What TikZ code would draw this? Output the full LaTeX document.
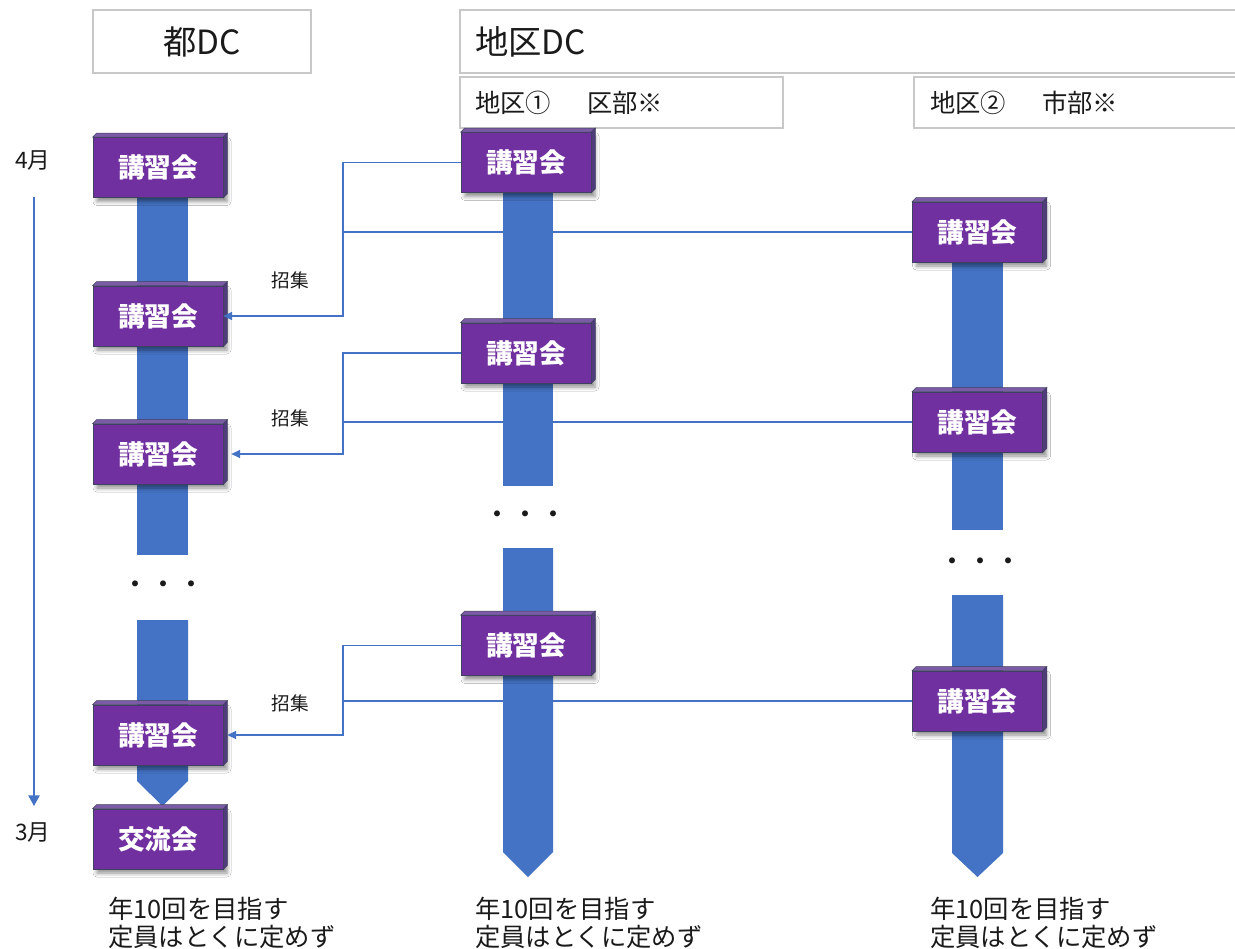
\documentclass[tikz,border=0pt]{standalone}
\usepackage{fontspec}
\setmainfont{Noto Sans CJK JP}
\usetikzlibrary{arrows.meta,shadows.blur}
\definecolor{kpurple}{HTML}{7030A0}
\definecolor{kblue}{HTML}{4472C4}
\definecolor{ktop}{HTML}{7B5BA6}
\definecolor{kside}{HTML}{4F3C7A}
\definecolor{kedge}{HTML}{404060}
\definecolor{kgray}{HTML}{C8C8C8}
\definecolor{ktext}{HTML}{1A1A1A}
\newcommand{\kbevel}[1]{%
  \fill[ktop,draw=kedge,line width=0.4pt] (#1.north west) -- ++(4,-4) -- ([xshift=3pt,yshift=3pt]#1.north east) -- (#1.north east) -- cycle;
  \fill[kside,draw=kedge,line width=0.4pt] (#1.north east) -- ([xshift=3pt,yshift=3pt]#1.north east) -- ([xshift=3pt,yshift=3pt]#1.south east) -- (#1.south east) -- cycle;}
\tikzset{
  kbox/.style={rectangle, fill=kpurple, draw=kedge, line width=0.5pt, minimum width=97.5pt, minimum height=45pt, inner sep=0pt,
    text=white, font=\fontsize{20}{22}\selectfont\bfseries,
    blur shadow={shadow xshift=3pt, shadow yshift=-3pt, shadow blur radius=3pt, shadow opacity=45}},
  hbox/.style={draw=kgray, line width=1pt},
  conn/.style={draw=kblue, line width=0.8pt},
  connarrow/.style={conn, -{Triangle[width=6pt,length=6.5pt]}},
  lbl/.style={text=ktext, inner sep=0pt},
  bar/.style={fill=kblue},
}
\begin{document}
\begin{tikzpicture}[x=0.75pt,y=-0.75pt]
\useasboundingbox (0,0) rectangle (1235,949);
\clip (0,0) rectangle (1235,949);
\fill[white] (0,0) rectangle (1235,949);

% header boxes
\draw[hbox] (93,10) rectangle (311,73);
\node[lbl, font=\fontsize{25}{27}\selectfont] (hto) at (202,42) {都DC};
\draw[hbox] (460,10) rectangle (1245,73);
\node[lbl, anchor=west, font=\fontsize{25}{27}\selectfont] (hchiku) at (475,42) {地区DC};
\draw[hbox] (460,77) rectangle (783,128);
\node[lbl, anchor=west, font=\fontsize{19}{21}\selectfont] (h1) at (475,103) {地区①\hspace{27pt}区部※};
\draw[hbox] (914,77) rectangle (1245,128);
\node[lbl, anchor=west, font=\fontsize{19}{21}\selectfont] (h2) at (930,103) {地区②\hspace{27pt}市部※};

% timeline
\node[lbl, font=\fontsize{17}{19}\selectfont] (apr) at (33,160) {4月};
\node[lbl, font=\fontsize{17}{19}\selectfont] (mar) at (33,832) {3月};
\coordinate (t0) at (34,197);
\coordinate (t1) at (34,806);
\draw[kblue, line width=1pt, -{Triangle[width=8.5pt,length=8pt]}] (t0) -- (t1);

% bars
\fill[bar] (137,197) rectangle (188,555);
\fill[bar] (137,620) -- (188,620) -- (188,781) -- (162.5,806) -- (137,781) -- cycle;
\fill[bar] (503,190) rectangle (553,486);
\fill[bar] (503,548) -- (553,548) -- (553,852) -- (528,877) -- (503,852) -- cycle;
\fill[bar] (952,260) rectangle (1003,530);
\fill[bar] (952,595) -- (1003,595) -- (1003,853) -- (977.5,877) -- (952,853) -- cycle;

% dots
\node[lbl, font=\fontsize{21}{23}\selectfont] (d1) at (163,588) {・・・};
\node[lbl, font=\fontsize{21}{23}\selectfont] (d2) at (525,518) {・・・};
\node[lbl, font=\fontsize{21}{23}\selectfont] (d3) at (980,565) {・・・};

% boxes
\node[kbox] (L1) at (158,167.5) {講習会};
\node[kbox] (L2) at (158,316) {講習会};
\node[kbox] (L3) at (158,454) {講習会};
\node[kbox] (L4) at (158,735) {講習会};
\node[kbox] (L5) at (158,839) {交流会};
\node[kbox] (M1) at (526,162.5) {講習会};
\node[kbox] (M2) at (526,353) {講習会};
\node[kbox] (M3) at (526,645.5) {講習会};
\node[kbox] (R1) at (977.5,232) {講習会};
\node[kbox] (R2) at (977.5,422) {講習会};
\node[kbox] (R3) at (977.5,701) {講習会};
\foreach \n in {L1,L2,L3,L4,L5,M1,M2,M3,R1,R2,R3} {\kbevel{\n}}

% connectors
\coordinate (j1) at (343,162.5);
\coordinate (j2) at (343,353);
\coordinate (j3) at (343,645.5);
\draw[connarrow] (M1.west) -- (j1) |- (L2.east);
\draw[conn] (R1.west) -- (R1.west -| j1);
\draw[connarrow] (M2.west) -- (j2) |- ([xshift=6pt]L3.east);
\draw[conn] (R2.west) -- (R2.west -| j2);
\draw[connarrow] (M3.west) -- (j3) |- ([xshift=3pt]L4.east);
\draw[conn] (R3.west) -- (R3.west -| j3);

\node[lbl, font=\fontsize{14}{16}\selectfont] (s1) at (290,280) {招集};
\node[lbl, font=\fontsize{14}{16}\selectfont] (s2) at (290,418) {招集};
\node[lbl, font=\fontsize{14}{16}\selectfont] (s3) at (290,703) {招集};

% bottom notes
\node[lbl, anchor=west, align=left, font=\fontsize{19}{21}\selectfont] (n1) at (108,923) {年10回を目指す\\定員はとくに定めず};
\node[lbl, anchor=west, align=left, font=\fontsize{19}{21}\selectfont] (n2) at (475,923) {年10回を目指す\\定員はとくに定めず};
\node[lbl, anchor=west, align=left, font=\fontsize{19}{21}\selectfont] (n3) at (930,923) {年10回を目指す\\定員はとくに定めず};
\end{tikzpicture}
\end{document}
